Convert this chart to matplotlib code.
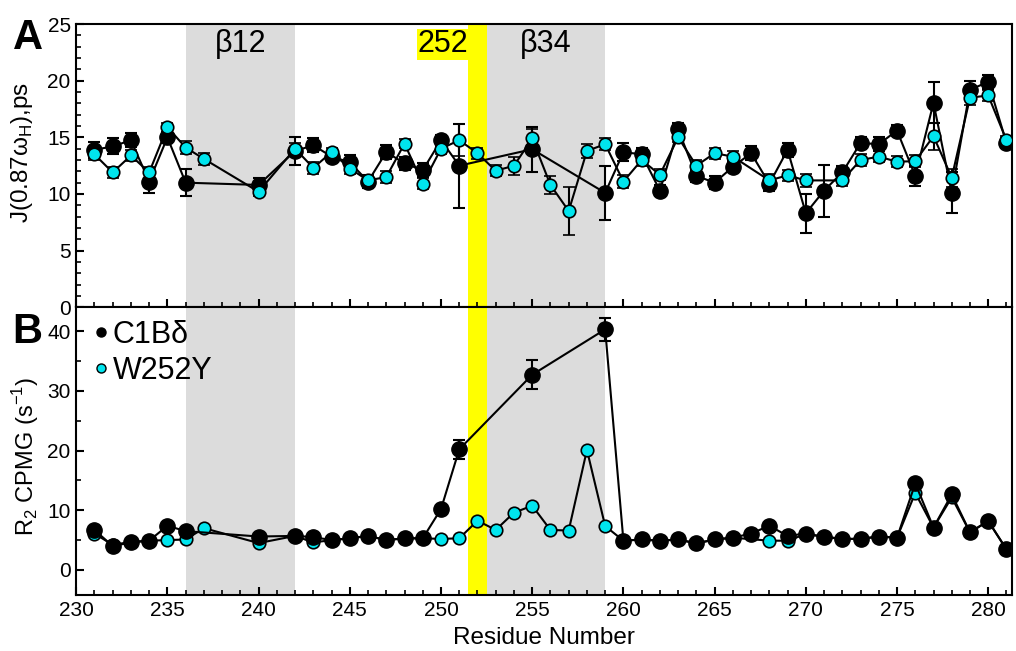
import matplotlib
matplotlib.use("Agg")
import matplotlib.pyplot as plt
from matplotlib.lines import Line2D
from matplotlib.ticker import MultipleLocator

plt.rcParams['font.family'] = ['Liberation Sans', 'DejaVu Sans']

# residues measured for each construct
res_wt = [231, 232, 233, 234, 235, 236, 240, 242, 243, 244, 245, 246, 247, 248, 249, 250,
          251, 255, 259, 260, 261, 262, 263, 264, 265, 266, 267, 268, 269, 270, 271, 272,
          273, 274, 275, 276, 277, 278, 279, 280, 281]
res_mut = [231, 232, 233, 234, 235, 236, 237, 240, 242, 243, 244, 245, 246, 247, 248, 249,
           250, 251, 252, 253, 254, 255, 256, 257, 258, 259, 260, 261, 262, 263, 264, 265,
           266, 268, 269, 270, 272, 273, 274, 275, 276, 277, 278, 279, 280, 281]

# panel A: J(0.87 wH), ps
j_wt = [13.9, 14.2, 14.75, 11.1, 15.0, 11.0, 10.8, 13.8, 14.3, 13.3, 12.8, 11.1, 13.7, 12.7,
        12.1, 14.75, 12.5, 13.95, 10.1, 13.7, 13.5, 10.3, 15.7, 11.6, 11.0, 12.4, 13.6, 10.9,
        13.9, 8.3, 10.3, 11.9, 14.5, 14.4, 15.6, 11.6, 18.05, 10.1, 19.2, 19.9, 14.5]
j_wt_err = [0.7, 0.7, 0.6, 1.0, 0.5, 1.2, 0.6, 1.2, 0.6, 0.5, 0.6, 0.6, 0.6, 0.6, 0.6, 0.5,
            3.7, 2.0, 2.4, 0.8, 0.6, 0.5, 0.6, 0.5, 0.6, 0.5, 0.6, 0.6, 0.6, 1.7, 2.3, 0.6,
            0.5, 0.6, 0.5, 0.9, 1.8, 1.8, 0.8, 0.6, 0.4]
j_mut = [13.5, 11.9, 13.4, 11.9, 15.9, 14.1, 13.1, 10.2, 14.0, 12.3, 13.7, 12.25, 11.2, 11.5,
         14.45, 10.9, 14.0, 14.75, 13.6, 12.05, 12.5, 14.9, 10.8, 8.5, 13.8, 14.4, 11.1, 13.0,
         11.7, 15.0, 12.5, 13.6, 13.3, 11.2, 11.65, 11.2, 11.2, 13.0, 13.3, 12.85, 12.9, 15.1,
         11.45, 18.5, 18.7, 14.75]
j_mut_err = [0.5, 0.5, 0.5, 0.5, 0.4, 0.6, 0.5, 0.4, 0.5, 0.5, 0.4, 0.5, 0.5, 0.5, 0.4, 0.5,
             0.5, 1.4, 0.5, 0.5, 0.8, 0.8, 0.8, 2.1, 0.6, 0.5, 0.6, 0.5, 0.5, 0.4, 0.5, 0.5,
             0.5, 0.6, 0.5, 0.6, 0.5, 0.5, 0.5, 0.5, 0.5, 1.2, 0.8, 0.6, 0.5, 0.4]

# panel B: R2 CPMG (s-1)
r2_wt = [6.7, 4.0, 4.6, 4.9, 7.4, 6.5, 5.6, 5.7, 5.5, 5.0, 5.3, 5.7, 5.0, 5.3, 5.3, 10.2,
         20.2, 32.7, 40.3, 4.9, 5.1, 4.9, 5.1, 4.45, 5.1, 5.4, 6.1, 7.4, 5.7, 6.1, 5.5, 5.2,
         5.2, 5.6, 5.4, 14.5, 7.1, 12.65, 6.3, 8.2, 3.45]
r2_wt_err = [0.3, 0.3, 0.3, 0.3, 0.3, 0.3, 0.3, 0.3, 0.3, 0.3, 0.3, 0.3, 0.3, 0.3, 0.3, 0.4,
             1.6, 2.4, 1.9, 0.3, 0.3, 0.3, 0.3, 0.3, 0.3, 0.3, 0.3, 0.3, 0.3, 0.3, 0.3, 0.3,
             0.3, 0.3, 0.3, 0.4, 0.3, 0.4, 0.3, 0.3, 0.3]
r2_mut = [6.1, 4.2, 4.7, 4.9, 5.0, 5.1, 7.0, 4.5, 5.7, 4.6, 5.0, 5.3, 5.7, 5.0, 5.3, 5.3,
          5.2, 5.3, 8.25, 6.7, 9.6, 10.75, 6.7, 6.6, 20.1, 7.35, 4.9, 5.1, 4.9, 5.1, 4.45,
          5.1, 5.4, 4.9, 4.9, 6.0, 5.2, 5.2, 5.6, 5.4, 12.9, 7.1, 12.15, 6.3, 8.2, 3.45]

beta_regions = [(236, 242, "\u03b212"), (252.5, 259, "\u03b234")]
site = 252

fig = plt.figure(figsize=(10.16, 6.51), dpi=100)
axA = fig.add_axes([0.075, 0.528, 0.921, 0.435])
axB = fig.add_axes([0.075, 0.086, 0.921, 0.442], sharex=axA)

for ax in (axA, axB):
    for lo, hi, _ in beta_regions:
        ax.axvspan(lo, hi, color='#dcdcdc', lw=0, zorder=0)
    ax.axvspan(site - 0.5, site + 0.5, color='#ffff00', lw=0, zorder=0)
    for sp in ax.spines.values():
        sp.set_linewidth(1.5)
    ax.tick_params(direction='in', which='major', length=6, width=1.5, labelsize=15, pad=4)
    ax.tick_params(direction='in', which='minor', length=3.5, width=1.2)
    ax.xaxis.set_major_locator(MultipleLocator(5))
    ax.xaxis.set_minor_locator(MultipleLocator(1))

eb = dict(color='black', ecolor='black', elinewidth=1.5, capsize=4, capthick=1.5, lw=1.5)

# panel A
axA.errorbar(res_wt, j_wt, yerr=j_wt_err, fmt='-o', ms=11, mfc='black', mec='black', zorder=3, **eb)
axA.errorbar(res_mut, j_mut, yerr=j_mut_err, fmt='-o', ms=9, mfc='#00e5ee', mec='black', mew=1.2, zorder=4, **eb)
axA.set_ylim(0, 25)
axA.yaxis.set_major_locator(MultipleLocator(5))
axA.yaxis.set_minor_locator(MultipleLocator(1))
axA.set_ylabel("J(0.87\u03c9$_\\mathregular{H}$),ps", fontsize=17.5)
axA.yaxis.set_label_coords(-0.044, 0.548)
axA.tick_params(labelbottom=False)
for lo, hi, name in beta_regions:
    axA.text((lo + hi) / 2, 23.2, name, ha='center', va='center', fontsize=22)
axA.text(site - 0.5, 23.2, str(site), ha='right', va='center', fontsize=22,
         bbox=dict(facecolor='#ffff00', edgecolor='none', pad=0.5))
axA.text(-0.068, 0.95, "A", transform=axA.transAxes, fontsize=30, fontweight='bold', va='center')

# panel B
axB.errorbar(res_mut, r2_mut, fmt='-o', ms=9, mfc='#00e5ee', mec='black', mew=1.2, zorder=3, **eb)
axB.errorbar(res_wt, r2_wt, yerr=r2_wt_err, fmt='-o', ms=11, mfc='black', mec='black', zorder=4, **eb)
axB.set_ylim(-4.2, 44)
axB.yaxis.set_major_locator(MultipleLocator(10))
axB.yaxis.set_minor_locator(MultipleLocator(5))
axB.set_xlim(230, 281.3)
axB.set_ylabel("R$_\\mathregular{2}$ CPMG (s$^\\mathregular{-1}$)", fontsize=17)
axB.yaxis.set_label_coords(-0.038, 0.48)
axB.set_xlabel("Residue Number", fontsize=17.5, labelpad=5)
axB.text(-0.068, 0.915, "B", transform=axB.transAxes, fontsize=30, fontweight='bold', va='center')

handles = [Line2D([], [], ls='none', marker='o', ms=6.5, mfc='black', mec='black', label="C1B\u03b4"),
           Line2D([], [], ls='none', marker='o', ms=6.5, mfc='#00e5ee', mec='black', label="W252Y")]
axB.legend(handles=handles, loc='upper left', bbox_to_anchor=(-0.005, 1.03), frameon=False,
           fontsize=22, handlelength=0.5, handletextpad=0.15, labelspacing=0.2, borderaxespad=0.3)

fig.savefig("out.png", dpi=100)
